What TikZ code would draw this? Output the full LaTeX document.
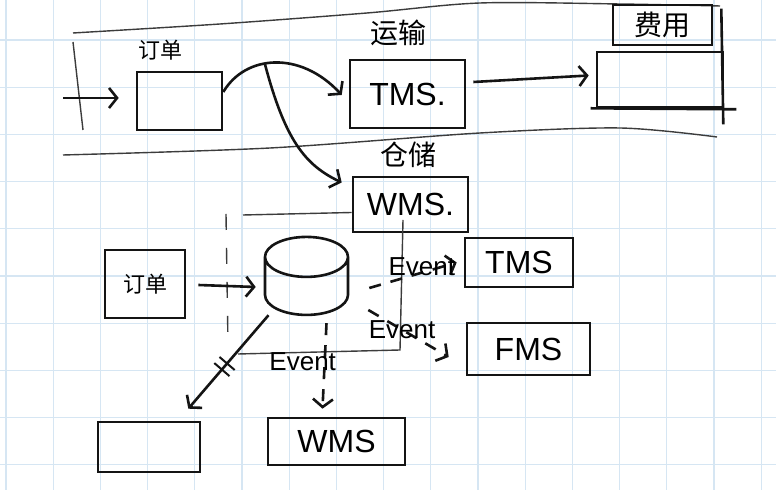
\documentclass[tikz,border=0pt]{standalone}
\usepackage{fontspec}
\setmainfont{Liberation Sans}
\newfontfamily\cjk{Noto Sans CJK SC}
\usetikzlibrary{arrows.meta,calc,shapes.geometric,decorations.markings}
\definecolor{GridClr}{RGB}{214,230,243}
\definecolor{InkClr}{RGB}{20,20,20}
\definecolor{LaneClr}{RGB}{60,60,60}

\tikzset{
  box/.style={draw=InkClr,line width=1.3pt,rectangle,inner sep=0pt},
  lane/.style={draw=LaneClr,line width=.7pt},
  arr/.style={draw=InkClr,line width=1.3pt,-{Straight Barb[length=4pt,width=10pt]}},
  evarr/.style={arr,dash pattern=on 6pt off 5pt},
  lbl/.style={font=\cjk\fontsize{14}{16}\selectfont,inner sep=0pt},
  smalllbl/.style={font=\cjk\fontsize{11}{13}\selectfont,inner sep=0pt},
  sys/.style={font=\fontsize{16}{18}\selectfont},
  evt/.style={font=\fontsize{13}{15}\selectfont,inner sep=1pt},
  cut/.style={decoration={markings,mark=at position .55 with {
      \draw[-,solid,line width=1pt] (-2pt,-5pt) -- (-2pt,5pt);
      \draw[-,solid,line width=1pt] (2pt,-5pt) -- (2pt,5pt);}},postaction=decorate},
}

\begin{document}
\begin{tikzpicture}[x=.5pt,y=-.5pt]
\useasboundingbox (0,0) rectangle (776,490);
\fill[white] (0,0) rectangle (776,490);

% Grid of the notebook page.
\foreach \i in {0,...,16} \draw[GridClr,line width=.6pt] ({6+47.2*\i},0) -- ({6+47.2*\i},490);
\foreach \j in {0,...,9} \draw[GridClr,line width=.6pt] (0,{40+47.2*\j}) -- (776,{40+47.2*\j});

% Upper lane.
\draw[lane] plot[smooth] coordinates {(73,33) (220,24) (367,13) (480,3) (620,4) (720,6)};
\draw[lane] (73,42) -- (83,130);
\draw[lane] plot[smooth] coordinates {(63,155) (270,148) (480,133) (620,128) (717,137)};

\node[box,minimum width=42.5pt,minimum height=29pt] (ordA) at (179.5,101) {};
\node[smalllbl] (ordAlbl) at (160,50) {订单};
\node[box,sys,minimum width=57.5pt,minimum height=34pt] (tmsA) at (407.5,94) {TMS.};
\node[lbl] (tmsAlbl) at (398,33) {运输};
\node[box,sys,minimum width=57.5pt,minimum height=27.5pt] (wmsA) at (410.5,204.5) {WMS.};
\node[lbl] (wmsAlbl) at (408,155) {仓储};
\node[box,minimum width=63pt,minimum height=27.5pt] (feeA) at (660,79.5) {};
\node[box,lbl,line width=.8pt,minimum width=49.5pt,minimum height=20pt] (feeTab) at (662.5,25) {费用};
\draw[box] ($(feeA.north east)+(-3,-42)$) -- ($(feeA.south east)+(-1,16)$);
\draw[box] ($(feeA.south west)+(-5,0)$) -- ($(feeA.south east)+(12,1)$);

\coordinate (entry) at (63,98);
\draw[arr] (entry) -- ($(ordA.west)+(-17,-3)$);
\draw[arr] ($(ordA.east)+(0,-9)$) .. controls (245,55) and (300,50) .. coordinate[pos=.42] (split) ($(tmsA.west)+(-7,1)$);
\draw[arr] (split) .. controls (285,140) and (305,165) .. ($(wmsA.west)+(-10,-22)$);
\draw[arr] ($(tmsA.east)+(7,-12)$) -- ($(feeA.west)+(-7,-4)$);

% Lower part: events from the store.
\draw[lane] ($(wmsA.west)+(0,8)$) -- (243,215);
\draw[lane,dash pattern=on 8pt off 9pt] (226,214) -- (228,345);
\draw[lane] (238,354) -- (400,350) -- (403,220);

\node[box,smalllbl,minimum width=40pt,minimum height=34pt] (ordB) at (145,284) {订单};
\node[draw=InkClr,line width=1.3pt,shape=cylinder,shape border rotate=90,aspect=3,
      minimum width=41.5pt,minimum height=39pt] (db) at (306.5,292) {};
\node[box,minimum width=51pt,minimum height=25pt] (emptyB) at (149,447) {};
\node[box,sys,minimum width=68.5pt,minimum height=23.5pt] (wmsB) at (336.5,441.5) {WMS};
\node[box,sys,minimum width=54pt,minimum height=24.5pt] (tmsB) at (519,262.5) {TMS};
\node[box,sys,minimum width=61.5pt,minimum height=26pt] (fmsB) at (528.5,349) {FMS};

\draw[arr] ($(ordB.east)+(12,1)$) -- ($(db.west)+(-8,-5)$);
\draw[arr,cut] ($(db.south)+(-38,-1)$) -- ($(emptyB.north east)+(-13,-12)$);
\draw[evarr] ($(db.south)+(20,7)$) -- node[evt,pos=.45,xshift=-11pt] {Event} ($(wmsB.north)+(-14,-8)$);
\draw[evarr] ($(db.east)+(20,-4)$) -- node[evt,pos=.6,yshift=3pt] {Event} ($(tmsB.west)+(-7,0)$);
\draw[evarr] ($(db.east)+(19,18)$) -- node[evt,pos=.42] {Event} ($(fmsB.west)+(-17,8)$);

\end{tikzpicture}
\end{document}
